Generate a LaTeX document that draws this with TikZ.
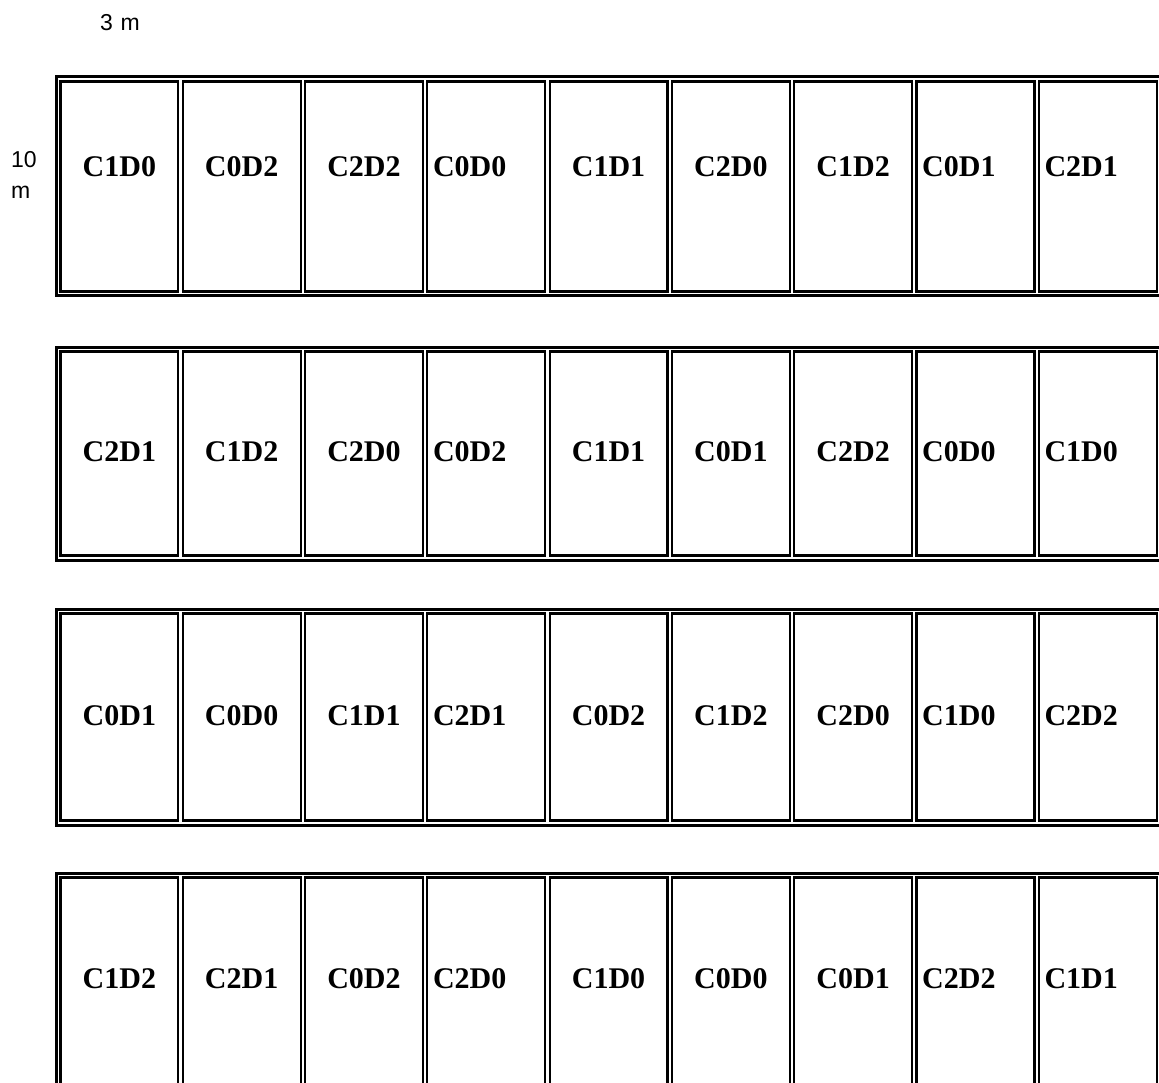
\documentclass[tikz,border=0pt]{standalone}
\usepackage{fontspec}
\setmainfont{Liberation Serif}
\newfontfamily\arialf{Liberation Sans}
\begin{document}
\begin{tikzpicture}[x=1pt,y=-1pt,
  outerframe/.style={draw=black,line width=3pt},
  cellbox/.style={draw=black,line width=2.2pt},
  plotlabel/.style={font=\bfseries\fontsize{30}{36}\selectfont,inner sep=0pt},
  dimlabel/.style={font=\arialf\fontsize{23}{31}\selectfont,inner sep=0pt}]
\useasboundingbox (0,0) rectangle (1159,1083);
\fill[white] (0,0) rectangle (1159,1083);
\node[dimlabel] (width) at (120,23) {3\,\,m};
\node[dimlabel,align=left,anchor=north west] (length) at (11,151) {10\\m};
\foreach \r/\ot/\ob/\ly/\labs in {
  1/77/296/167/{C1D0,C0D2,C2D2,C0D0,C1D1,C2D0,C1D2,C0D1,C2D1},
  2/347/560/452/{C2D1,C1D2,C2D0,C0D2,C1D1,C0D1,C2D2,C0D0,C1D0},
  3/609/825/716/{C0D1,C0D0,C1D1,C2D1,C0D2,C1D2,C2D0,C1D0,C2D2},
  4/873/1092/979/{C1D2,C2D1,C0D2,C2D0,C1D0,C0D0,C0D1,C2D2,C1D1}}{
  \draw[outerframe] (56,\ot) rectangle (1162,\ob);
  \foreach \lab [count=\i] in \labs {
    \pgfmathsetmacro{\xl}{58.2+122.3*(\i-1)+2.2}
    \pgfmathsetmacro{\xr}{58.2+122.3*\i-2.2}
    \pgfmathsetmacro{\xc}{(\xl+\xr)/2}
    \draw[cellbox] (\xl,\ot+4.5) rectangle (\xr,\ob-4.5);
    \ifnum\i=4 \node[plotlabel,anchor=west] (p\r-\i) at (\xl+5.5,\ly) {\lab};
    \else\ifnum\i>7 \node[plotlabel,anchor=west] (p\r-\i) at (\xl+5.5,\ly) {\lab};
    \else \node[plotlabel] (p\r-\i) at (\xc,\ly) {\lab};
    \fi\fi
  }
}
\end{tikzpicture}
\end{document}
